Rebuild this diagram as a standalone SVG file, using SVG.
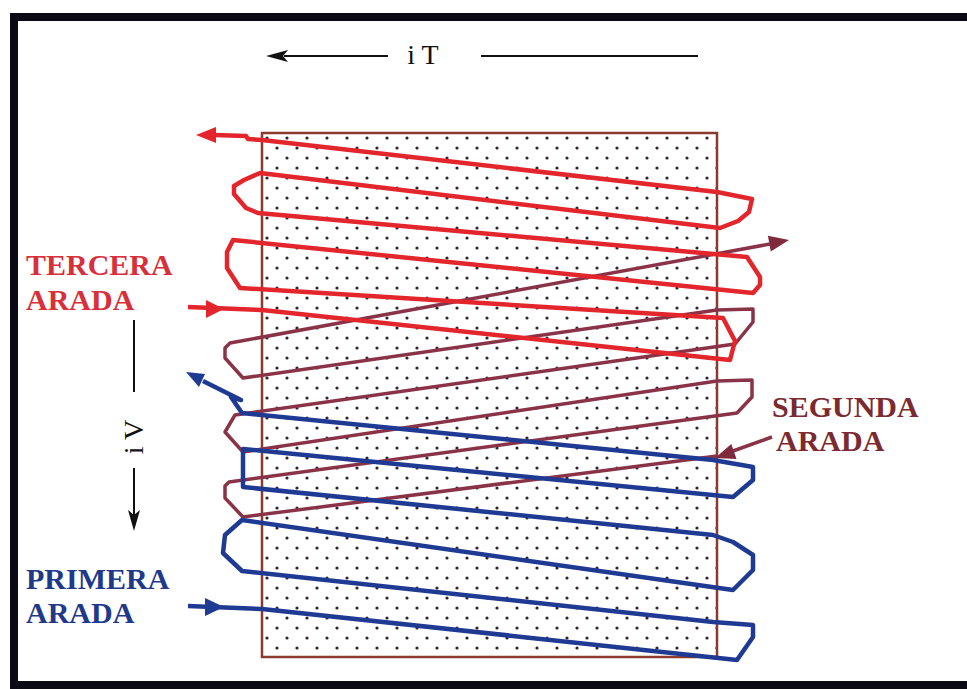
<svg xmlns="http://www.w3.org/2000/svg" width="967" height="689" viewBox="0 0 967 689">
<defs>
<pattern id="dots" patternUnits="userSpaceOnUse" x="262" y="133" width="20" height="20">
<rect width="20" height="20" fill="#ffffff"/>
<circle cx="5" cy="5" r="1.6" fill="#30222a"/>
<circle cx="15" cy="15" r="1.6" fill="#30222a"/>
</pattern>
<style>
.lbl{font-family:"Liberation Serif","Times New Roman",serif;font-weight:bold;font-size:30px}
.ax{font-family:"Liberation Serif","Times New Roman",serif;font-size:28px;fill:#111}
.red{fill:none;stroke:#e2262c;stroke-width:4.5;stroke-linejoin:round}
.blue{fill:none;stroke:#1f3a93;stroke-width:4.5;stroke-linejoin:round}
.pur{fill:none;stroke:#8a3348;stroke-width:3.5;stroke-linejoin:round}
.axl{stroke:#111;stroke-width:2;fill:none}
</style>
</defs>
<rect x="0" y="0" width="967" height="689" fill="#ffffff"/>
<rect x="14" y="17" width="1000" height="668" fill="none" stroke="#0a0a14" stroke-width="8"/>

<g id="field">
<rect x="262" y="133" width="455" height="524" fill="url(#dots)" stroke="#8b3a2e" stroke-width="2.5"/>
</g>

<g id="connectors">
<g id="segunda-path">
<path class="pur" d="M717,456 L243,517 L225,498 L225,486 L229,482 L737,413 L752,397 L752,380 L717,381 L243,452 L225,432 L235,415 L735,344 L753,322 L753,309 L717,310 L243,378 L225,358 L225,348 L230,343 L770,244"/>
<polygon points="789,240 770.8,251.5 767.9,235.7" fill="#7e2a3c"/>
<path class="pur" d="M772,437 L733,451" stroke="#7e2a3c"/>
<polygon points="715,458 736.5,458.9 731.3,443.9" fill="#7e2a3c"/>
</g>
<g id="primera-path">
<path class="blue" d="M188,606 L262,609 L737,660 L753,637 L753,625 L713,622 L242,571 L223,553 L225,535 L242,520 L733,590 L753,570 L753,555 L733,542 L713,535 L243,487 L243,449 L733,497 L753,480 L753,467 L713,460 L242,413 L231,397 L241,400 L203,381"/>
<polygon points="205,598 224,607 205,616" fill="#1f3a93"/>
<polygon points="186,372 205,374 199,387" fill="#1f3a93"/>
</g>
<g id="tercera-path">
<path class="red" d="M188,307 L262,310 L730,360 L735,341 L723,318 L240,288 L227,268 L227,252 L233,240 L753,293 L760,285 L760,277 L747,257 L258,213 L246,208 L234,194 L234,186 L244,180 L260,173 L720,228 L738,221 L749,212 L752,199 L717,192 L262,140 L248,139 L246,136 L214,135"/>
<polygon points="206,300 224,309 206,318" fill="#e2262c"/>
<polygon points="196,135 216,127 216,143" fill="#e2262c"/>
</g>
<g id="axis-arrows">
<line class="axl" x1="284" y1="56" x2="388" y2="56"/>
<polygon points="266,56 288,50 283,56 288,62" fill="#111"/>
<line class="axl" x1="481" y1="56" x2="698" y2="56"/>
<line class="axl" x1="134" y1="320" x2="134" y2="392"/>
<line class="axl" x1="134" y1="468" x2="134" y2="515"/>
<polygon points="134,531 128,510 134,515 140,510" fill="#111"/>
</g>
</g>

<g id="label-iT"><text class="ax" x="423" y="64" text-anchor="middle">i T</text></g>
<g id="label-iV"><text class="ax" transform="translate(143,437) rotate(-90)" text-anchor="middle">i V</text></g>
<g id="label-tercera">
<text class="lbl" fill="#d8303a" x="26" y="275">TERCERA</text>
<text class="lbl" fill="#d8303a" x="26" y="310">ARADA</text>
</g>
<g id="label-segunda">
<text class="lbl" fill="#7b2a30" x="772" y="417">SEGUNDA</text>
<text class="lbl" fill="#7b2a30" x="776" y="451">ARADA</text>
</g>
<g id="label-primera">
<text class="lbl" fill="#1f3a8a" x="26" y="589">PRIMERA</text>
<text class="lbl" fill="#1f3a8a" x="26" y="623">ARADA</text>
</g>
</svg>
